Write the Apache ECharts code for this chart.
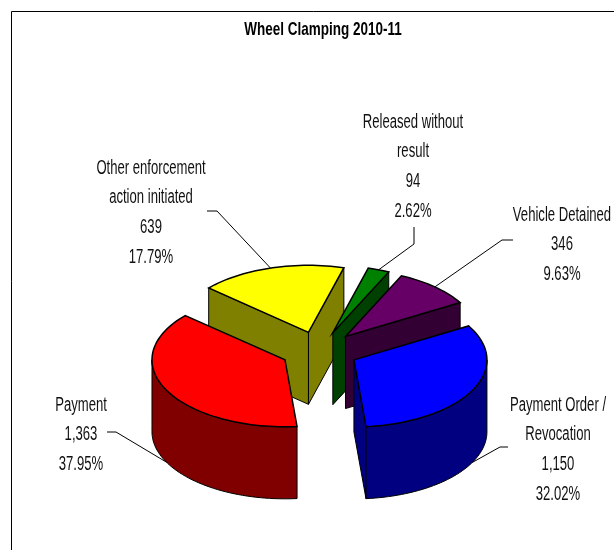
<!DOCTYPE html>
<html>
<head>
<meta charset="utf-8">
<script src="https://cdn.jsdelivr.net/npm/echarts@6/dist/echarts.min.js"></script>
<style>
  html, body { margin: 0; padding: 0; background: #fff; }
  #main { width: 614px; height: 550px; }
</style>
</head>
<body>
<div id="main"></div>
<script>
// clockwise from the back of the yellow slice, same order they get painted in
var categories = ['Other enforcement\naction initiated', 'Released without\nresult', 'Vehicle Detained', 'Payment Order /\nRevocation', 'Payment'];
var values = [639, 94, 346, 1150, 1363];
var topColors = ['#ffff00', '#008000', '#660066', '#0000ff', '#ff0000'];
var sideColors = ['#808000', '#004000', '#330033', '#000080', '#800000'];

// label centre x, first line y, and the elbow of the leader line
var labelX = [151, 413, 562, 558, 81];
var labelY = [168, 122, 215, 405, 405];
var elbows = [
    [[217, 211], [207, 211]],
    [[414, 244], [414, 227]],
    [[502, 240], [513, 240]],
    [[500, 447], [508, 447]],
    [[116, 432], [107, 432]]
];

// pie projection
var cx = 319.5, cy = 351;
var rx = 133, ry = 67;
var depth = 72;
var explode = 38.7;
var startAngle = -48.6;
var lineGap = 29.8;
// no narrow face installed, so the text gets squeezed instead
var fontFamily = '"Liberation Sans", sans-serif';
var font = '20px ' + fontFamily;
var labelSqueeze = 0.655;
var titleSqueeze = 0.71;

var total = values.reduce(function (a, b) { return a + b; }, 0);

function rad(d) { return d * Math.PI / 180; }

function formatValue(v) {
    return v.toString().replace(/\B(?=(\d{3})+$)/g, ',');
}

function renderSlice(params, api) {
    var idx = params.dataIndex;
    var before = 0;
    for (var i = 0; i < idx; i++) before += values[i];
    var val = api.value(0);
    var a0 = startAngle + before / total * 360;
    var a1 = a0 + val / total * 360;
    var mid = (a0 + a1) / 2;

    // slice apex, pushed out along the middle of the slice
    var ox = cx + explode * Math.sin(rad(mid));
    var oy = cy - explode * (ry / rx) * Math.cos(rad(mid));

    function rim(a, dy) {
        return [ox + rx * Math.sin(rad(a)), oy - ry * Math.cos(rad(a)) + (dy || 0)];
    }
    function arc(from, to, dy) {
        var pts = [];
        var n = Math.max(2, Math.ceil(Math.abs(to - from) / 2));
        for (var k = 0; k <= n; k++) pts.push(rim(from + (to - from) * k / n, dy));
        return pts;
    }
    function radialFace(a) {
        return {
            type: 'polygon',
            shape: { points: [[ox, oy], rim(a), rim(a, depth), [ox, oy + depth]] },
            style: { fill: sideColors[idx], stroke: '#000', lineWidth: 1 }
        };
    }

    var children = [];
    if (Math.sin(rad(a0)) < 0) children.push(radialFace(a0));
    if (Math.sin(rad(a1)) > 0) children.push(radialFace(a1));

    // outer wall, only the part that faces the viewer
    var w0 = Math.max(a0, 90), w1 = Math.min(a1, 270);
    if (w1 > w0) {
        children.push({
            type: 'polygon',
            shape: { points: arc(w0, w1, 0).concat(arc(w1, w0, depth)) },
            style: { fill: sideColors[idx], stroke: '#000', lineWidth: 1 }
        });
    }

    // top face
    children.push({
        type: 'polygon',
        shape: { points: [[ox, oy]].concat(arc(a0, a1, 0)) },
        style: { fill: topColors[idx], stroke: '#000', lineWidth: 1.5 }
    });

    // leader line starts on the rim (bottom rim for the front slices)
    var front = Math.cos(rad(mid)) < 0;
    children.push({
        type: 'polyline',
        shape: { points: [rim(mid, front ? depth : 0)].concat(elbows[idx]) },
        style: { fill: null, stroke: '#000', lineWidth: 1 }
    });

    // label
    var lines = categories[idx].split('\n');
    lines.push(formatValue(val));
    lines.push((val / total * 100).toFixed(2) + '%');
    lines.forEach(function (line, k) {
        children.push({
            type: 'text',
            x: labelX[idx],
            y: labelY[idx] + k * lineGap,
            scaleX: labelSqueeze,
            style: {
                text: line,
                align: 'center',
                verticalAlign: 'middle',
                fill: '#111',
                font: font
            }
        });
    });

    return { type: 'group', children: children };
}

var myChart = echarts.init(document.getElementById('main'));
var option = {
    backgroundColor: '#fff',
    animation: false,
    graphic: [
        {
            // chart frame, runs off the right and bottom of the page
            type: 'rect',
            shape: { x: 11.5, y: 11.5, width: 640, height: 580 },
            style: { fill: null, stroke: '#000', lineWidth: 1 },
            silent: true
        },
        {
            type: 'text',
            x: 323,
            y: 30,
            scaleX: titleSqueeze,
            silent: true,
            style: {
                text: 'Wheel Clamping 2010-11',
                align: 'center',
                verticalAlign: 'middle',
                fill: '#000',
                font: 'bold 19px ' + fontFamily
            }
        }
    ],
    series: [
        {
            type: 'custom',
            coordinateSystem: 'none',
            silent: true,
            data: values.map(function (v, i) { return { name: categories[i], value: [v] }; }),
            renderItem: renderSlice
        }
    ]
};
myChart.setOption(option);
</script>
</body>
</html>
